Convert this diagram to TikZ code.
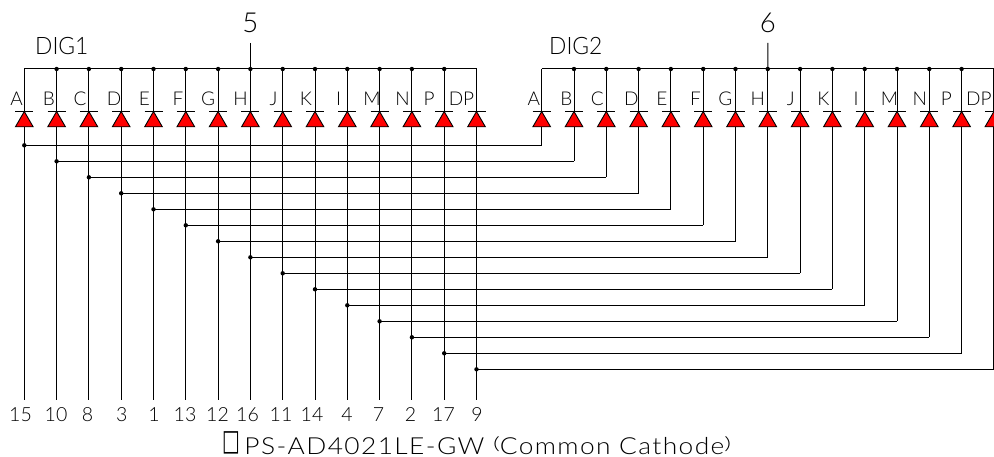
\documentclass[tikz,border=0pt]{standalone}
\usepackage{fontspec}
\setmainfont{Lato Light}
\newfontfamily\titlefont[LetterSpace=6,FakeStretch=1.12]{Lato Light}
\newfontfamily\symfont{DejaVu Sans}
\newcommand{\flatparen}[1]{\raisebox{4.4pt}{\scalebox{1}[0.72]{#1}}}
\usetikzlibrary{shapes.geometric}
\tikzset{
  wire/.style={draw=black,line width=1pt},
  diode/.style={regular polygon,regular polygon sides=3,minimum size=20.4pt,inner sep=0pt,outer sep=0pt,fill=red,draw=black,line width=0.9pt},
  dot/.style={circle,fill=black,inner sep=0pt,minimum size=4.4pt},
  seglabel/.style={anchor=base,inner sep=0pt,font=\fontsize{19}{19}\selectfont},
  pinlabel/.style={anchor=base,inner sep=0pt,font=\fontsize{19.5}{19.5}\selectfont},
  diglabel/.style={anchor=base west,inner sep=0pt,font=\fontsize{24}{24}\selectfont},
  comlabel/.style={anchor=base,inner sep=0pt,font=\fontsize{27.5}{27.5}\selectfont},
}
\begin{document}
\begin{tikzpicture}[x=1pt,y=-1pt]
\useasboundingbox (0,0) rectangle (994,457);
\fill[white] (0,0) rectangle (994,457);
% pins and left-hand verticals
\foreach \i/\x/\pin/\lx in {1/24.3/15/20.5,2/56.6/10/56,3/88.9/8/87.5,4/121.2/3/121.7,5/153.5/1/154,6/185.8/13/185,7/218.1/12/217.5,8/250.4/16/247.5,9/282.7/11/281,10/315/14/312,11/347.3/4/347,12/379.6/7/378.5,13/411.9/2/410.5,14/444.2/17/443.5,15/476.5/9/477}{
  \node[pinlabel] (p\i) at (\lx,421) {\pin};
  \coordinate (tl\i) at (\x,69);
  \coordinate (bl\i) at (\x,400);
  \coordinate (jl\i) at (\x,{129.3+16*\i});
  \coordinate (tr\i) at ({\x+517.4},69);
  \coordinate (jr\i) at ({\x+517.4},{129.3+16*\i});
  \draw[wire] (tl\i) -- (bl\i);
  \draw[wire] (tr\i) -- (jr\i);
  \draw[wire] (jl\i) -- (jr\i);
}
% common cathode buses
\draw[wire] (tl1) -- (tl15);
\draw[wire] (tr1) -- (tr15);
\coordinate (c5) at (250.4,43);
\coordinate (c6) at (767.8,43);
\draw[wire] (c5) -- (tl8);
\draw[wire] (c6) -- (tr8);
\node[comlabel] (n5) at (250.4,33) {5};
\node[comlabel] (n6) at (767.8,33) {6};
\node[diglabel] (dig1) at (35,55) {\scalebox{0.95}[1]{DIG1}};
\node[diglabel] (dig2) at (549,55) {\scalebox{0.95}[1]{DIG2}};
% diodes, letters and dots
\foreach \i/\x/\lab/\lx in {1/24.3/A/16.5,2/56.6/B/49,3/88.9/C/80,4/121.2/D/114,5/153.5/E/144.5,6/185.8/F/178,7/218.1/G/208,8/250.4/H/240.5,9/282.7/J/273.5,10/315/K/306,11/347.3/I/338.7,12/379.6/M/372,13/411.9/N/402.5,14/444.2/P/429,15/476.5/DP/461.5}{
  \node[diode] (dl\i) at (\x,121.7) {};
  \node[diode] (dr\i) at ({\x+517.4},121.7) {};
  \draw[wire] (\x-9,111.5) -- (\x+9,111.5);
  \draw[wire] ({\x+517.4-9},111.5) -- ({\x+517.4+9},111.5);
  \node[seglabel] (ll\i) at (\lx,106) {\lab};
  \node[seglabel] (lr\i) at ({\lx+517.4},106) {\lab};
  \node[dot] (ja\i) at (jl\i) {};
  \ifnum\i>1 \ifnum\i<15
    \node[dot] (tla\i) at (tl\i) {};
    \node[dot] (tra\i) at (tr\i) {};
  \fi\fi
}
\node[anchor=base,inner sep=0pt,font=\fontsize{23.5}{23.5}\titlefont] (title) at (477,454) {{\symfont\raisebox{3.7pt}{\scalebox{0.8}[1.25]{□}}}\,PS-AD4021LE-GW \flatparen{(}Common Cathode\flatparen{)}};
\end{tikzpicture}
\end{document}
